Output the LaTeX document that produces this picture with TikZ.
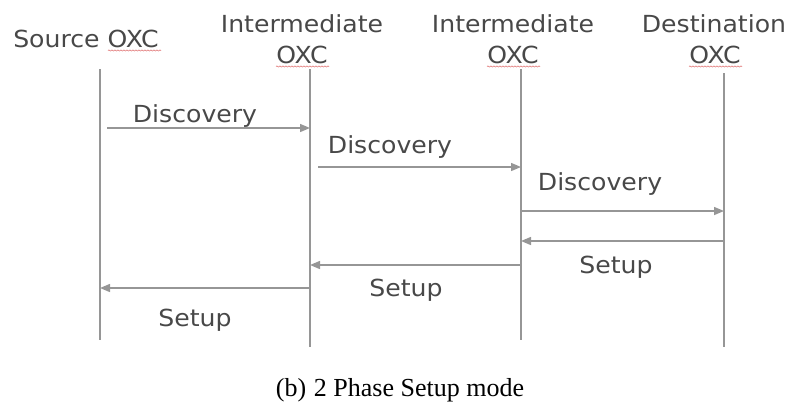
\documentclass[tikz,border=0pt]{standalone}
\usepackage{fontspec}
\usetikzlibrary{arrows.meta,decorations.pathmorphing}
\newfontfamily\dvfont[FakeStretch=1.07]{DejaVu Sans}
\newfontfamily\tmfont{Liberation Serif}
\definecolor{txtgray}{RGB}{72,72,72}
\definecolor{linegray}{RGB}{150,150,150}
\definecolor{spellred}{RGB}{225,120,120}
\tikzset{
  lbl/.style={inner sep=0pt, anchor=base, text=txtgray, font=\dvfont\fontsize{23.5bp}{30bp}\selectfont},
  life/.style={draw=linegray, line width=1.4bp},
  msg/.style={draw=linegray, line width=1.4bp, -{Triangle[length=10bp,width=8bp]}},
  spell/.style={draw=spellred, line width=0.6bp, decorate, decoration={snake, amplitude=0.6bp, segment length=3bp}}
}
\begin{document}
\begin{tikzpicture}[x=1bp,y=-1bp]
\useasboundingbox (0,0) rectangle (788,407);
% headers
\node[lbl] (src) at (86,47) {Source OXC};
\node[lbl] (i1a) at (302,32) {Intermediate};
\node[lbl] (i1b) at (302,63) {OXC};
\node[lbl] (i2a) at (513,32) {Intermediate};
\node[lbl] (i2b) at (513,63) {OXC};
\node[lbl] (dsa) at (714,32) {Destination};
\node[lbl] (dsb) at (715,63) {OXC};
% spell-check underlines
\draw[spell] (108,50.5) -- (161,50.5);
\draw[spell] (276,66.5) -- (329,66.5);
\draw[spell] (487,66.5) -- (540,66.5);
\draw[spell] (689,66.5) -- (742,66.5);
% lifelines
\coordinate (s0) at (100,69);  \coordinate (s9) at (100,340);
\coordinate (a0) at (310,69);  \coordinate (a9) at (310,347);
\coordinate (b0) at (521,69);  \coordinate (b9) at (521,340);
\coordinate (d0) at (724,73);  \coordinate (d9) at (724,347);
\draw[life] (s0) -- (s9);
\draw[life] (a0) -- (a9);
\draw[life] (b0) -- (b9);
\draw[life] (d0) -- (d9);
% message endpoints
\coordinate (m1s) at (107,128); \coordinate (m1e) at (310,128);
\coordinate (m2s) at (318,167); \coordinate (m2e) at (521,167);
\coordinate (m3s) at (521,211); \coordinate (m3e) at (724,211);
\coordinate (m4s) at (724,241); \coordinate (m4e) at (521,241);
\coordinate (m5s) at (521,265); \coordinate (m5e) at (310,265);
\coordinate (m6s) at (310,288); \coordinate (m6e) at (100,288);
\draw[msg] (m1s) -- (m1e);
\draw[msg] (m2s) -- (m2e);
\draw[msg] (m3s) -- (m3e);
\draw[msg] (m4s) -- (m4e);
\draw[msg] (m5s) -- (m5e);
\draw[msg] (m6s) -- (m6e);
% labels
\node[lbl] (l1) at (195,122) {Discovery};
\node[lbl] (l2) at (390,153) {Discovery};
\node[lbl] (l3) at (600,190) {Discovery};
\node[lbl] (l4) at (616,273) {Setup};
\node[lbl] (l5) at (406,296) {Setup};
\node[lbl] (l6) at (195,326) {Setup};
% caption
\node[inner sep=0pt, anchor=base, font=\tmfont\fontsize{26bp}{30bp}\selectfont] (cap) at (400,396) {(b)\hspace{0.3em}2 Phase Setup mode};
\end{tikzpicture}
\end{document}
